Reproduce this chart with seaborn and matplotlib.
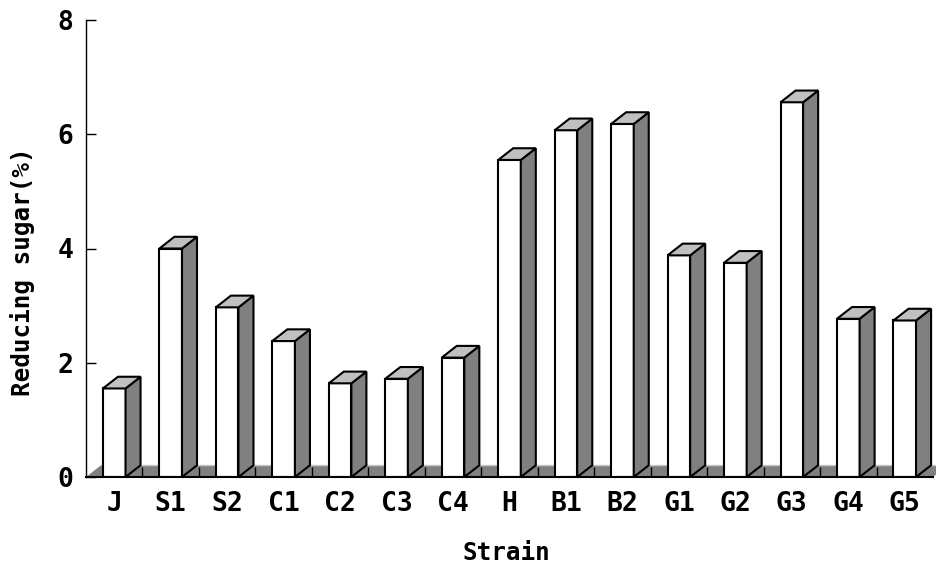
import matplotlib
matplotlib.use("Agg")
import matplotlib.pyplot as plt
from matplotlib.patches import Polygon
import seaborn as sns
import pandas as pd

# Reducing sugar content per strain
strains = ["J", "S1", "S2", "C1", "C2", "C3", "C4", "H", "B1", "B2",
           "G1", "G2", "G3", "G4", "G5"]
sugar = [1.55, 4.00, 2.97, 2.38, 1.64, 1.72, 2.09, 5.55, 6.07, 6.18,
         3.88, 3.75, 6.56, 2.77, 2.74]
y_ticks = [0, 2, 4, 6, 8]

df = pd.DataFrame({"Strain": strains, "Sugar": sugar})

sns.set_style("white")
plt.rcParams["font.family"] = ["DejaVu Sans Mono", "DejaVu Sans"]
plt.rcParams["font.weight"] = "bold"
plt.rcParams["text.color"] = "black"
plt.rcParams["axes.labelcolor"] = "black"
plt.rcParams["xtick.color"] = "black"
plt.rcParams["ytick.color"] = "black"

W, H = 936, 569
fig = plt.figure(figsize=(W / 100, H / 100), dpi=100)
ax = fig.add_axes([86 / W, 1 - 477 / H, (933 - 86) / W, (477 - 20) / H])
ax.set_axisbelow(False)

# depth of the pseudo-3D extrusion, in data units
dx, dy = 0.266, 0.205
side_c, top_c, floor_c = "#808080", "#c0c0c0", "#808080"

# floor strip
floor = Polygon([(-0.5, 0), (14.5, 0), (14.5 + dx, dy), (-0.5 + dx, dy)],
                closed=True, facecolor=floor_c, edgecolor="none",
                zorder=0.5, clip_on=False)
ax.add_patch(floor)
ax.plot([-0.5 + dx, 14.5 + dx], [dy, dy], color="#c8c8c8", lw=1.0,
        zorder=0.6, clip_on=False)

sns.barplot(data=df, x="Strain", y="Sugar", color="white", saturation=1,
            edgecolor="black", linewidth=1.5, width=0.40, ax=ax, zorder=3)

for p in list(ax.patches):
    if p is floor:
        continue
    x0, w, h = p.get_x(), p.get_width(), p.get_height()
    x1 = x0 + w
    side = Polygon([(x1, 0), (x1 + dx, dy), (x1 + dx, h + dy), (x1, h)],
                   closed=True, facecolor=side_c, edgecolor="black",
                   linewidth=1.5, joinstyle="miter", zorder=3, clip_on=False)
    top = Polygon([(x0, h), (x0 + dx, h + dy), (x1 + dx, h + dy), (x1, h)],
                  closed=True, facecolor=top_c, edgecolor="black",
                  linewidth=1.5, joinstyle="miter", zorder=3, clip_on=False)
    ax.add_patch(side)
    ax.add_patch(top)

ax.set_xlim(-0.5, 14.5)
ax.set_ylim(0, 8)
ax.set_yticks(y_ticks)
ax.set_yticklabels([str(t) for t in y_ticks])
ax.set_xticks(range(len(strains)))
ax.set_xticklabels(strains)
ax.set_xticks([i + 0.5 for i in range(len(strains) - 1)], minor=True)

ax.tick_params(axis="y", direction="in", length=7, width=1, color="black",
               labelcolor="black", pad=9, labelsize=19, left=True)
ax.tick_params(axis="x", which="major", length=0, pad=10, labelsize=19,
               labelcolor="black", bottom=True)
ax.tick_params(axis="x", which="minor", direction="in", length=7, width=1,
               color="black", bottom=True)
for lbl in ax.get_xticklabels() + ax.get_yticklabels():
    lbl.set_fontweight("bold")

for s in ["top", "right"]:
    ax.spines[s].set_visible(False)
ax.spines["left"].set_color("black")
ax.spines["left"].set_linewidth(1.0)
ax.spines["bottom"].set_color("black")
ax.spines["bottom"].set_linewidth(1.5)
ax.spines["left"].set_zorder(4)
ax.spines["bottom"].set_zorder(4)

ax.set_xlabel("Strain", fontsize=17.5, fontweight="bold", color="black")
ax.set_ylabel("Reducing sugar(%)", fontsize=17.5, fontweight="bold",
              color="black")
ax.xaxis.set_label_coords((506 - 86) / (933 - 86), -(553 - 477) / 457)
ax.xaxis.label.set_va("center")
ax.yaxis.set_label_coords((23 - 86) / (933 - 86), (477 - 272) / 457)
ax.yaxis.label.set_va("center")

ax.grid(False)
fig.savefig("out.png", dpi=100)
